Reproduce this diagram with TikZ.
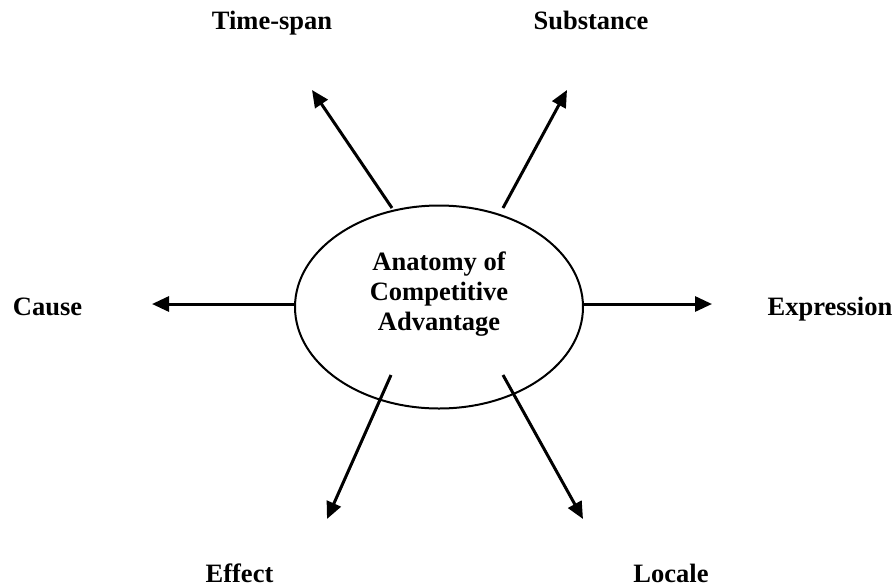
\documentclass[tikz,border=0pt]{standalone}
\usepackage{fontspec}
\setmainfont{Liberation Serif}
\usetikzlibrary{arrows.meta,shapes.geometric}
\tikzset{
	lbl/.style={font=\fontsize{13.25}{15}\selectfont\bfseries, inner sep=0pt},
	hubshape/.style={draw, ellipse, line width=1pt, minimum width=144pt, minimum height=101.5pt, inner sep=0pt},
	ray/.style={line width=1.5pt, -{Triangle[length=8.5pt,width=7.5pt]}}
}
\begin{document}
\begin{tikzpicture}[x=0.5pt,y=-0.5pt]
			%%%%% START %%%%%
			\useasboundingbox (0,0) rectangle (896,585);
			
			\node[hubshape] (hub) at (439,307) {};
			\node[lbl, align=center] (hubtxt) at (439,294) {Anatomy of\\Competitive\\Advantage};
			
			\coordinate (tsfrom) at (392,208);
			\coordinate (tsto) at (312,90);
			\coordinate (subfrom) at (503,208);
			\coordinate (subto) at (567,90);
			\coordinate (causefrom) at (295,304);
			\coordinate (causeto) at (152,304);
			\coordinate (exprfrom) at (583,304);
			\coordinate (exprto) at (712,304);
			\coordinate (efffrom) at (391,375);
			\coordinate (effto) at (327,519);
			\coordinate (locfrom) at (503,375);
			\coordinate (locto) at (583,519);
			
			\draw[ray] (tsfrom) -- (tsto);
			\draw[ray] (subfrom) -- (subto);
			\draw[ray] (causefrom) -- (causeto);
			\draw[ray] (exprfrom) -- (exprto);
			\draw[ray] (efffrom) -- (effto);
			\draw[ray] (locfrom) -- (locto);
			
			\node[lbl, anchor=base] (timespan) at (272,29) {Time-span};
			\node[lbl, anchor=base] (substance) at (591,29) {Substance};
			\node[lbl, anchor=base] (cause) at (47.5,315) {Cause};
			\node[lbl, anchor=base] (expression) at (830,315) {Expression};
			\node[lbl, anchor=base] (effect) at (239.5,582) {Effect};
			\node[lbl, anchor=base] (locale) at (671,582) {Locale};
			
			%%%%% END %%%%%
\end{tikzpicture}
\end{document}
